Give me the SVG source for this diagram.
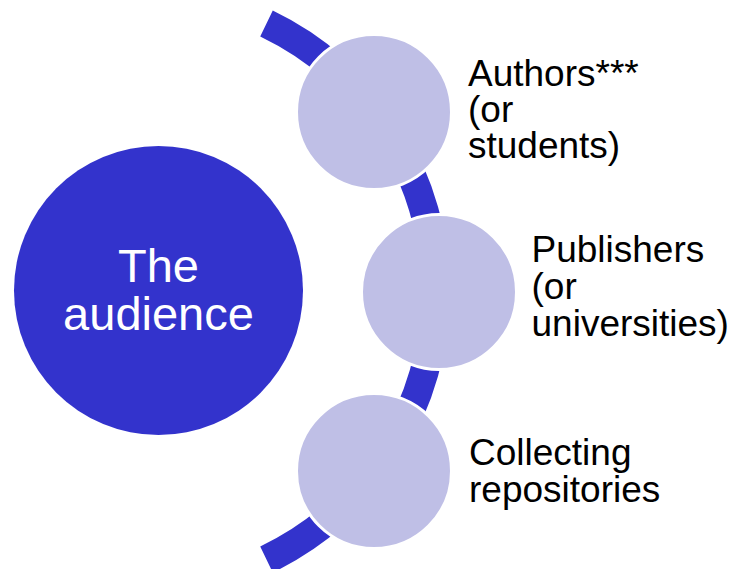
<svg xmlns="http://www.w3.org/2000/svg" width="738" height="569" viewBox="0 0 738 569">
<style>
.arc{fill:none;stroke:#3333CC;stroke-width:29;stroke-linecap:butt}
.main{fill:#3333CC}
.item{fill:#BFBFE6;stroke:#FFFFFF;stroke-width:3}
.t{font-family:"Liberation Sans",Arial,sans-serif;font-size:37px;fill:#000000}
.tm{font-family:"Liberation Sans",Arial,sans-serif;font-size:47px;fill:#FFFFFF;text-anchor:middle}
</style>
<rect width="738" height="569" fill="#FFFFFF"/>
<g id="connectors">
<path class="arc" d="M 266.5 23.5 A 297.2 297.2 0 0 1 266.5 559.5"/>
</g>
<g id="audience">
<circle class="main" cx="158.5" cy="290.5" r="144.5"/>
<text class="tm" x="158.5" y="281.5">The</text>
<text class="tm" x="158.5" y="330">audience</text>
</g>
<g id="authors">
<circle class="item" cx="374" cy="112" r="77.5"/>
<text class="t" x="468" y="85.5">Authors***</text>
<text class="t" x="468" y="121.5">(or</text>
<text class="t" x="468" y="157.5">students)</text>
</g>
<g id="publishers">
<circle class="item" cx="439" cy="292" r="77.5"/>
<text class="t" x="531.5" y="262">Publishers</text>
<text class="t" x="531.5" y="299">(or</text>
<text class="t" x="531.5" y="336">universities)</text>
</g>
<g id="repositories">
<circle class="item" cx="374" cy="471" r="77.5"/>
<text class="t" x="469" y="465">Collecting</text>
<text class="t" x="469" y="501.5">repositories</text>
</g>
</svg>
